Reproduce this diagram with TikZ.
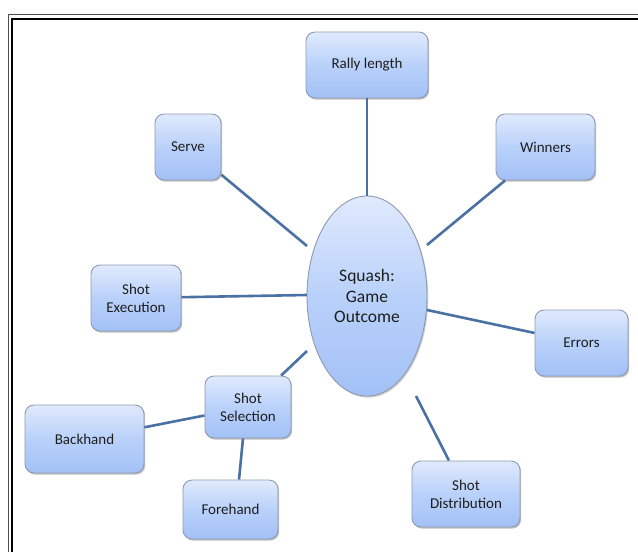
\documentclass[tikz,border=0pt]{standalone}
\usepackage{fontspec}
\setmainfont{Carlito}
\usetikzlibrary{shapes.geometric,shadows}
\definecolor{boxtop}{HTML}{E0EAFD}
\definecolor{boxmid}{HTML}{B9D1FA}
\definecolor{boxbot}{HTML}{A3C1F7}
\definecolor{boxline}{HTML}{8E9BB0}
\definecolor{linkblue}{HTML}{4A71A3}
\definecolor{labeltext}{HTML}{1E1E1E}
\tikzset{
  topic/.style={draw=boxline, line width=0.9pt, rounded corners=9pt,
    top color=boxtop, bottom color=boxbot, middle color=boxmid,
    inner sep=0pt, align=center, text=labeltext,
    font=\fontsize{15}{18}\selectfont,
    drop shadow={shadow xshift=1.2pt, shadow yshift=-1.6pt, opacity=0.25, fill=black}},
  hub/.style={ellipse, draw=boxline, line width=0.9pt,
    top color=boxtop, bottom color=boxbot, middle color=boxmid,
    minimum width=120pt, minimum height=200pt, inner sep=0pt,
    align=center, text=labeltext, font=\fontsize{17.5}{20.5}\selectfont,
    drop shadow={shadow xshift=1.2pt, shadow yshift=-1.6pt, opacity=0.2, fill=black}},
  link/.style={draw=linkblue, line width=2.6pt},
  frameline/.style={draw=black}
}
\begin{document}
\begin{tikzpicture}[x=1pt,y=-1pt]
  \useasboundingbox (0,0) rectangle (638,552);
  \fill[white] (0,0) rectangle (638,552);

  % double page frame
  \draw[frameline, line width=1pt, draw=black!70] (8,560) -- (8,14.5) -- (660,14.5);
  \draw[frameline, line width=2pt] (12,560) -- (12,18.5) -- (660,18.5);

  % central topic
  \node[hub] (hubnode) at (367,296) {Squash:\\Game\\Outcome};

  % surrounding topics
  \node[topic, minimum width=122pt, minimum height=66pt] (rally) at (367,65) {Rally length};
  \node[topic, minimum width=99pt, minimum height=66pt] (winners) at (545.5,147) {Winners};
  \node[topic, minimum width=66pt, minimum height=66pt] (serve) at (188,147) {Serve};
  \node[topic, minimum width=90pt, minimum height=66pt] (execution) at (136,298) {Shot\\Execution};
  \node[topic, minimum width=93pt, minimum height=66pt] (errors) at (581.5,343) {Errors};
  \node[topic, minimum width=86pt, minimum height=62pt] (selection) at (248,407) {Shot\\Selection};
  \node[topic, minimum width=119pt, minimum height=68pt] (backhand) at (84.5,439) {Backhand};
  \node[topic, minimum width=95pt, minimum height=59pt] (forehand) at (230.5,509.5) {Forehand};
  \node[topic, minimum width=108pt, minimum height=66pt] (distribution) at (466,494) {Shot\\Distribution};

  % connector ends on the hub's bounding box
  \coordinate (hServe) at (307,246);
  \coordinate (hWinners) at (427,245);
  \coordinate (hExec) at (307,295);
  \coordinate (hErrors) at (427,310);
  \coordinate (hSel) at (307,351);
  \coordinate (hDist) at (416,396);

  % connectors
  \draw[link] (rally) -- (hubnode);
  \draw[link] (serve) -- (hServe);
  \draw[link] (winners) -- (hWinners);
  \draw[link] (execution) -- (hExec);
  \draw[link] (errors) -- (hErrors);
  \draw[link] (selection) -- (hSel);
  \draw[link] (distribution) -- (hDist);
  \draw[link] (backhand) -- (selection);
  \draw[link] ([xshift=8.5pt]forehand.north) -- ([xshift=-5pt]selection.south);
\end{tikzpicture}
\end{document}
